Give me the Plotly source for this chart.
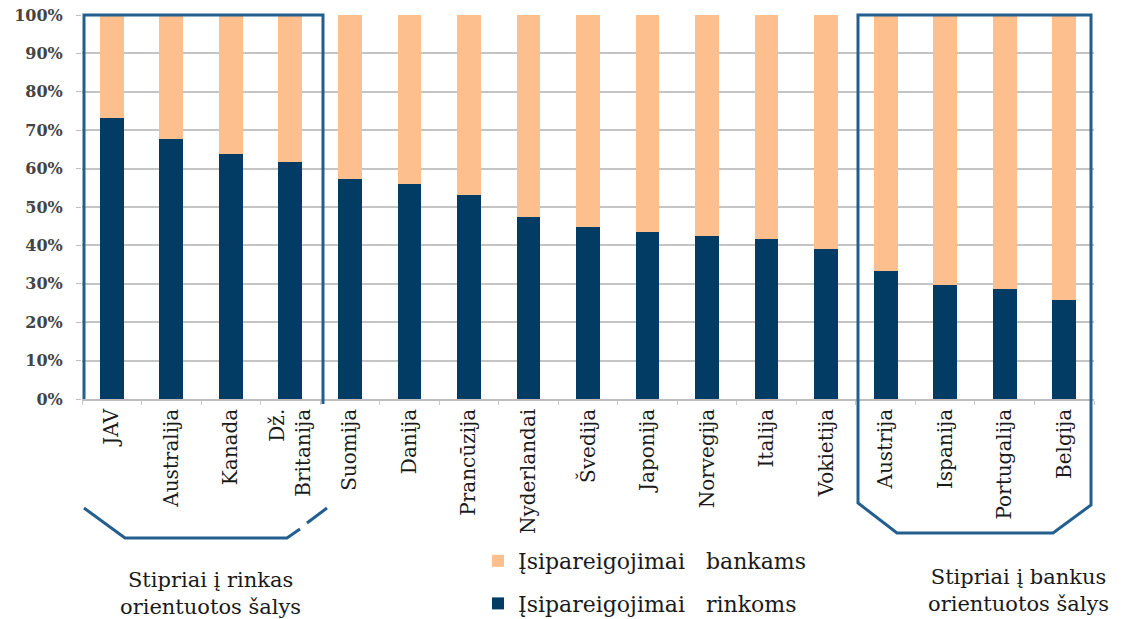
import plotly.graph_objects as go

# Countries ordered from market-oriented to bank-oriented financing
countries = [
    "JAV", "Australija", "Kanada", "Dž.<br>Britanija",
    "Suomija", "Danija", "Prancūzija", "Nyderlandai", "Švedija",
    "Japonija", "Norvegija", "Italija", "Vokietija",
    "Austrija", "Ispanija", "Portugalija", "Belgija",
]

# Share of liabilities to markets (%)
rinkoms = [73.1, 67.7, 63.8, 61.7, 57.4, 56.1, 53.1, 47.4, 44.7,
           43.5, 42.5, 41.6, 39.0, 33.3, 29.7, 28.7, 25.8]

# Share of liabilities to banks (%)
bankams = [26.9, 32.3, 36.2, 38.3, 42.6, 43.9, 46.9, 52.6, 55.3,
           56.5, 57.5, 58.4, 61.0, 66.7, 70.3, 71.3, 74.2]

y_ticks = list(range(0, 101, 10))

NAVY = "#023b63"
PEACH = "#fdbf8d"
BOX = "#235f8e"
SERIF = "DejaVu Serif"
GAP = "\u00a0\u00a0\u00a0"

W, H = 1125, 619
M_L, M_R, M_T, M_B = 82, 31, 15, 220
PW, PH = W - M_L - M_R, H - M_T - M_B


def px(x):
    return (x - M_L) / PW


def py(y):
    return (M_T + PH - y) / PH


fig = go.Figure()
fig.add_trace(go.Bar(
    x=countries, y=rinkoms, name=f"Įsipareigojimai{GAP}rinkoms",
    marker=dict(color=NAVY, line=dict(width=0)),
    legendgroup="r", legendrank=2,
))
fig.add_trace(go.Bar(
    x=countries, y=bankams, name=f"Įsipareigojimai{GAP}bankams",
    marker=dict(color=PEACH, line=dict(width=0)),
    legendgroup="b", legendrank=1,
))


def path(points):
    return "M " + " L ".join(f"{px(x):.5f},{py(y):.5f}" for x, y in points)


shapes = []
line = dict(color=BOX, width=3)
# market-oriented group frame
for pts in [
    [(84, 399), (84, 15), (323, 15), (323, 404)],
    [(84, 508), (125, 538), (287, 538), (300, 529)],
    [(307, 523), (327, 508)],
]:
    shapes.append(dict(type="path", xref="paper", yref="paper",
                       path=path(pts), line=line, layer="above"))
# bank-oriented group frame
shapes.append(dict(
    type="path", xref="paper", yref="paper",
    path=path([(858, 15), (858, 503), (897, 533), (1053, 533),
               (1091, 505), (1091, 15)]) + " Z",
    line=line, layer="above",
))

annotations = [
    dict(text="Stipriai į rinkas<br>orientuotos šalys",
         x=px(210), y=py(593), xref="paper", yref="paper",
         showarrow=False, xanchor="center", yanchor="middle",
         font=dict(family=SERIF, size=21, color="#1a1a1a")),
    dict(text="Stipriai į bankus<br>orientuotos šalys",
         x=px(1018), y=py(590), xref="paper", yref="paper",
         showarrow=False, xanchor="center", yanchor="middle",
         font=dict(family=SERIF, size=21, color="#1a1a1a")),
]

fig.update_layout(
    width=W, height=H,
    margin=dict(l=M_L, r=M_R, t=M_T, b=M_B, autoexpand=False),
    barmode="stack", bargap=0.6,
    plot_bgcolor="white", paper_bgcolor="white",
    shapes=shapes, annotations=annotations,
    legend=dict(
        xref="container", yref="container",
        x=478 / W, y=1 - 540 / H, xanchor="left", yanchor="top",
        traceorder="grouped", tracegroupgap=11,
        font=dict(family=SERIF, size=22, color="#1a1a1a"),
        bgcolor="rgba(0,0,0,0)",
    ),
    xaxis=dict(
        type="category", tickangle=-90, automargin=False,
        tickfont=dict(family=SERIF, size=20, color="#1a1a1a"),
        ticks="outside", tickson="boundaries", ticklen=4,
        tickcolor="#c8c8c8", showline=True, linecolor="#bdbdbd",
        linewidth=1.5, showgrid=False,
    ),
    yaxis=dict(
        range=[0, 100], tickvals=y_ticks, automargin=False,
        ticktext=[f"{v}%" for v in y_ticks],
        tickfont=dict(family=SERIF, size=16, color="#444444", weight="bold"),
        ticks="outside", ticklen=5, tickcolor="#bdbdbd",
        showgrid=True, gridcolor="#c4c4c4", gridwidth=1.5,
        zeroline=False, showline=False, ticklabelstandoff=10,
    ),
)

fig.write_html("out.html")
